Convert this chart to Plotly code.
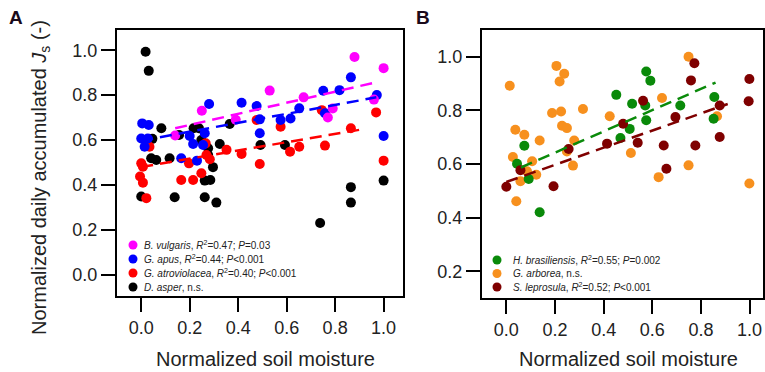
import plotly.graph_objects as go

# ---------------- Panel A data ----------------
vul_x = [0.14, 0.25, 0.39, 0.53, 0.67, 0.77, 0.79, 0.88, 0.96, 1.0]
vul_y = [0.62, 0.73, 0.69, 0.82, 0.79, 0.70, 0.74, 0.97, 0.78, 0.92]

apus_x = [0.0, 0.004, 0.014, 0.027, 0.031, 0.165, 0.2, 0.214, 0.23, 0.255, 0.262, 0.28, 0.414,
          0.476, 0.489, 0.489, 0.575, 0.616, 0.652, 0.751, 0.758, 0.818, 0.865, 0.972, 1.0]
apus_y = [0.607, 0.674, 0.57, 0.607, 0.667, 0.519, 0.618, 0.582, 0.508, 0.578, 0.63, 0.76, 0.766,
          0.751, 0.692, 0.63, 0.689, 0.696, 0.741, 0.819, 0.719, 0.822, 0.879, 0.80, 0.618]

atro_x = [-0.005, 0.0, 0.007, 0.007, 0.021, 0.034, 0.165, 0.197, 0.214, 0.248, 0.266, 0.269, 0.283,
          0.352, 0.414, 0.476, 0.489, 0.575, 0.614, 0.652, 0.745, 0.758, 0.865, 0.969, 1.0]
atro_y = [0.437, 0.496, 0.481, 0.41, 0.341, 0.57, 0.422, 0.496, 0.422, 0.452, 0.585, 0.533, 0.514,
          0.556, 0.538, 0.689, 0.493, 0.659, 0.548, 0.57, 0.733, 0.575, 0.652, 0.723, 0.508]

asper_x = [0.0, 0.018, 0.031, 0.041, 0.046, 0.062, 0.083, 0.117, 0.138, 0.156, 0.216, 0.238, 0.248,
           0.262, 0.262, 0.276, 0.276, 0.285, 0.296, 0.31, 0.324, 0.365, 0.492, 0.593, 0.738,
           0.865, 0.865, 1.0]
asper_y = [0.348, 0.993, 0.908, 0.519, 0.605, 0.511, 0.652, 0.519, 0.345, 0.622, 0.652, 0.652, 0.60,
           0.419, 0.345, 0.533, 0.563, 0.422, 0.479, 0.321, 0.582, 0.671, 0.578, 0.578, 0.23,
           0.39, 0.321, 0.419]

# regression lines (end points)
vul_fit_x = [0.14, 0.96]
vul_fit_y = [0.652, 0.855]
apus_fit_x = [0.0, 0.97]
apus_fit_y = [0.597, 0.790]
atro_fit_x = [0.0, 0.92]
atro_fit_y = [0.480, 0.649]

# ---------------- Panel B data ----------------
bras_x = [0.044, 0.074, 0.092, 0.137, 0.452, 0.469, 0.507, 0.517, 0.571, 0.575, 0.575, 0.592,
          0.715, 0.852, 0.855]
bras_y = [0.601, 0.668, 0.544, 0.42, 0.858, 0.697, 0.731, 0.825, 0.818, 0.945, 0.763, 0.911,
          0.818, 0.769, 0.85]

arb_x = [0.014, 0.027, 0.037, 0.041, 0.058, 0.074, 0.085, 0.106, 0.123, 0.137, 0.188, 0.206,
         0.219, 0.225, 0.229, 0.238, 0.249, 0.249, 0.274, 0.279, 0.315, 0.425, 0.512, 0.626,
         0.64, 0.749, 0.749, 0.866, 0.999]
arb_y = [0.892, 0.626, 0.728, 0.461, 0.536, 0.709, 0.573, 0.61, 0.56, 0.688, 0.79, 0.966,
         0.908, 0.796, 0.743, 0.937, 0.734, 0.647, 0.594, 0.688, 0.805, 0.778, 0.641, 0.551,
         0.846, 1.0, 0.595, 0.778, 0.527]

lep_x = [0.0, 0.058, 0.194, 0.256, 0.414, 0.48, 0.54, 0.562, 0.647, 0.658, 0.695, 0.759,
         0.773, 0.777, 0.877, 0.877, 0.996, 0.999]
lep_y = [0.515, 0.577, 0.517, 0.656, 0.676, 0.75, 0.679, 0.836, 0.669, 0.582, 0.775, 0.912,
         0.976, 0.669, 0.818, 0.701, 0.834, 0.917]

bras_fit_x = [0.06, 0.86]
bras_fit_y = [0.587, 0.904]
lep_fit_x = [0.0, 0.91]
lep_fit_y = [0.533, 0.824]

x_ticks = [0.0, 0.2, 0.4, 0.6, 0.8, 1.0]
ya_ticks = [0.0, 0.2, 0.4, 0.6, 0.8, 1.0]
yb_ticks = [0.2, 0.4, 0.6, 0.8, 1.0]

legend_a = [
    ("#FF00FF", "<i>B. vulgaris</i>, <i>R</i><sup>2</sup>=0.47; <i>P</i>=0.03"),
    ("#0000FF", "<i>G. apus</i>, <i>R</i><sup>2</sup>=0.44; <i>P</i>&lt;0.001"),
    ("#FF0000", "<i>G. atroviolacea</i>, <i>R</i><sup>2</sup>=0.40; <i>P</i>&lt;0.001"),
    ("#000000", "<i>D. asper</i>, n.s."),
]
legend_b = [
    ("#0A8A0A", "<i>H. brasiliensis</i>, <i>R</i><sup>2</sup>=0.55; <i>P</i>=0.002"),
    ("#F7901E", "<i>G. arborea</i>, n.s."),
    ("#7F0000", "<i>S. leprosula</i>, <i>R</i><sup>2</sup>=0.52; <i>P</i>&lt;0.001"),
]

W, H = 765, 372
FONT = "Liberation Sans, Arial, sans-serif"
MS = 10

fig = go.Figure()

def pts(x, y, color, xa, ya):
    fig.add_trace(go.Scatter(x=x, y=y, mode="markers", xaxis=xa, yaxis=ya,
                             marker=dict(color=color, size=MS, line=dict(width=0)),
                             showlegend=False, hoverinfo="skip"))

def fit(x, y, color, xa, ya):
    fig.add_trace(go.Scatter(x=x, y=y, mode="lines", xaxis=xa, yaxis=ya,
                             line=dict(color=color, width=2.5, dash="12px,7px"),
                             showlegend=False, hoverinfo="skip"))

# Panel A
pts(asper_x, asper_y, "#000000", "x", "y")
pts(atro_x, atro_y, "#FF0000", "x", "y")
pts(apus_x, apus_y, "#0000FF", "x", "y")
pts(vul_x, vul_y, "#FF00FF", "x", "y")
fit(vul_fit_x, vul_fit_y, "#FF00FF", "x", "y")
fit(apus_fit_x, apus_fit_y, "#0000FF", "x", "y")
fit(atro_fit_x, atro_fit_y, "#FF0000", "x", "y")

# Panel B
pts(arb_x, arb_y, "#F7901E", "x2", "y2")
pts(bras_x, bras_y, "#0A8A0A", "x2", "y2")
pts(lep_x, lep_y, "#7F0000", "x2", "y2")
fit(bras_fit_x, bras_fit_y, "#0A8A0A", "x2", "y2")
fit(lep_fit_x, lep_fit_y, "#7F0000", "x2", "y2")

def px_x(p):
    return p / W

def px_y(p):
    return 1 - p / H

axis_common = dict(showline=True, linecolor="black", linewidth=2, mirror=True,
                   ticks="outside", ticklen=14, tickwidth=2, tickcolor="black",
                   showgrid=False, zeroline=False, tickformat=".1f",
                   tickfont=dict(family=FONT, size=18, color="#222"))

fig.update_layout(
    width=W, height=H, margin=dict(l=0, r=0, t=0, b=0),
    paper_bgcolor="white", plot_bgcolor="white",
    xaxis=dict(domain=[px_x(117), px_x(403)], range=[-0.1, 1.08], tickvals=x_ticks,
               anchor="y", **axis_common),
    yaxis=dict(domain=[px_y(296), px_y(30)], range=[-0.095, 1.09], tickvals=ya_ticks,
               anchor="x", **axis_common),
    xaxis2=dict(domain=[px_x(482), px_x(763)], range=[-0.1, 1.055], tickvals=x_ticks,
                anchor="y2", **axis_common),
    yaxis2=dict(domain=[px_y(298), px_y(30)], range=[0.1, 1.1], tickvals=yb_ticks,
                anchor="x2", **axis_common),
    showlegend=False,
)

def text_ann(xp, yp, text, size, color="#222", xanchor="center", angle=0):
    return dict(x=px_x(xp), y=px_y(yp), text=text, xref="paper", yref="paper",
                showarrow=False, xanchor=xanchor, yanchor="middle", textangle=angle,
                font=dict(family=FONT, size=size, color=color))

def key_dot(xp, yp, color, d=9):
    return dict(type="circle", xref="paper", yref="paper",
                x0=px_x(xp - d / 2), x1=px_x(xp + d / 2),
                y0=px_y(yp + d / 2), y1=px_y(yp - d / 2),
                fillcolor=color, line=dict(width=0), layer="above")

ann = []
shapes = []
# panel letters
ann.append(text_ann(16, 18, "<b>A</b>", 19, "#1a0a1a"))
ann.append(text_ann(423, 18, "<b>B</b>", 19, "#1a0a1a"))
# axis titles
ann.append(text_ann(265, 359, "Normalized soil moisture", 20))
ann.append(text_ann(628, 359, "Normalized soil moisture", 20))
ann.append(text_ann(40, 178, "Normalized daily accumulated <i>J</i><sub>s</sub> (-)", 20, angle=-90))

# legends
for i, (c, t) in enumerate(legend_a):
    yy = 245 + i * 14
    shapes.append(key_dot(133, yy, c))
    ann.append(text_ann(142, yy, t, 10, xanchor="left"))
for i, (c, t) in enumerate(legend_b):
    yy = 260 + i * 13.5
    shapes.append(key_dot(497, yy, c))
    ann.append(text_ann(511, yy, t, 10, xanchor="left"))

fig.update_layout(annotations=ann, shapes=shapes)
fig.write_html("out.html")
